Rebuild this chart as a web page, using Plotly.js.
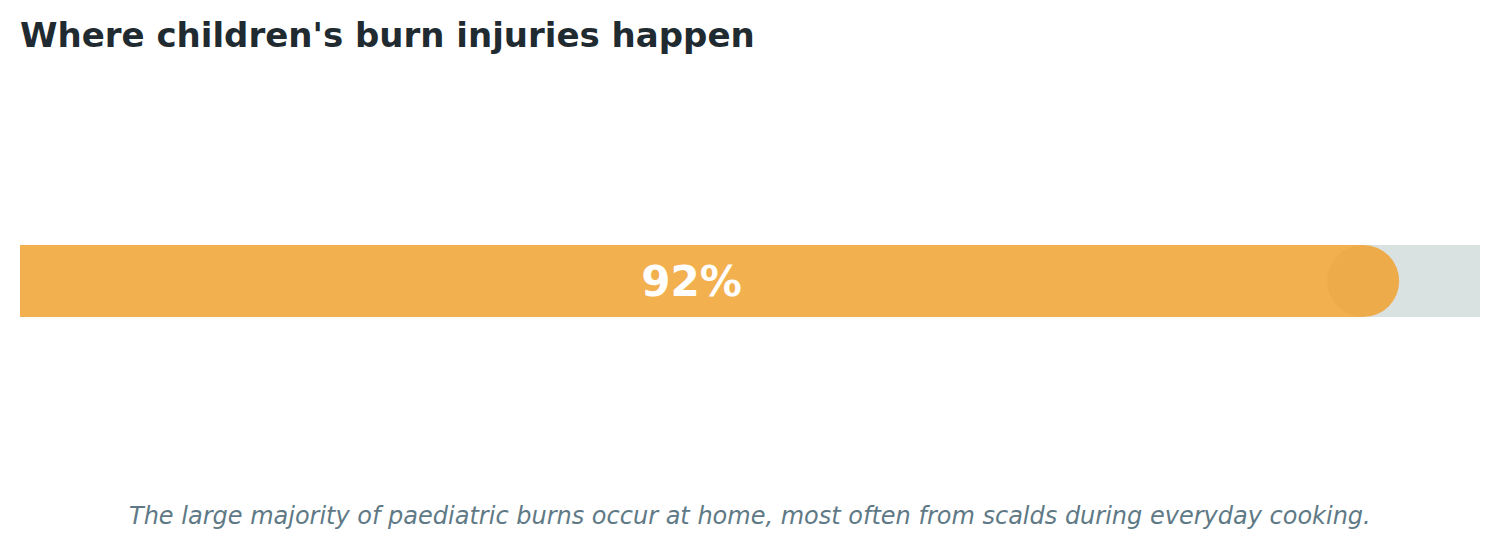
<!DOCTYPE html>
<html>
<head>
<meta charset="utf-8">
<script src="https://cdn.plot.ly/plotly-3.0.1.min.js"></script>
<style>
  html, body { margin: 0; padding: 0; background: #fff; }
  #chart { width: 1500px; height: 548px; }
</style>
</head>
<body>
<div id="chart"></div>
<script>
// share of paediatric burns that happen at home
let category = ['Home'];
let shareValues = [92];
let fullValues = [100];
let shareLabels = ['92%'];

let titleText = "Where children's burn injuries happen";
let noteText = 'The large majority of paediatric burns occur at home, most often from scalds during everyday cooking.';

let track = {
  x: fullValues,
  y: category,
  type: 'bar',
  orientation: 'h',
  width: 1,
  marker: { color: '#dae2e1' },
  hoverinfo: 'skip'
};

let fill = {
  x: shareValues,
  y: category,
  type: 'bar',
  orientation: 'h',
  width: 1,
  marker: { color: '#f2b04e' },
  text: shareLabels,
  textposition: 'inside',
  insidetextanchor: 'middle',
  textfont: { family: 'DejaVu Sans', size: 42, color: '#ffffff', weight: 'bold' },
  constraintext: 'none',
  hoverinfo: 'skip'
};

// rounded end of the progress bar
let cap = {
  x: shareValues,
  y: category,
  type: 'scatter',
  mode: 'markers',
  marker: { size: 72, color: '#eeab4a', line: { width: 0 } },
  cliponaxis: false,
  hoverinfo: 'skip'
};

Plotly.newPlot(document.getElementById('chart'), [track, fill, cap], {
  width: 1500,
  height: 548,
  margin: { l: 20, r: 20, t: 245, b: 231, pad: 0 },
  paper_bgcolor: '#ffffff',
  plot_bgcolor: '#ffffff',
  barmode: 'overlay',
  showlegend: false,
  font: { family: 'DejaVu Sans' },
  title: {
    text: titleText,
    x: 20 / 1500,
    xanchor: 'left',
    xref: 'container',
    y: 1 - 35 / 548,
    yanchor: 'middle',
    yref: 'container',
    font: { family: 'DejaVu Sans', size: 34, color: '#1f2b30', weight: 'bold' }
  },
  xaxis: { range: [0, 100], visible: false, fixedrange: true },
  yaxis: { range: [-0.5, 0.5], visible: false, fixedrange: true },
  annotations: [{
    text: '<i>' + noteText + '</i>',
    xref: 'paper', yref: 'paper',
    x: 0.5, y: (317 - 516) / 72,
    xanchor: 'center', yanchor: 'middle',
    showarrow: false,
    font: { family: 'DejaVu Sans', size: 24, color: '#5f7a86' }
  }]
}, { displayModeBar: false, staticPlot: true });
</script>
</body>
</html>
